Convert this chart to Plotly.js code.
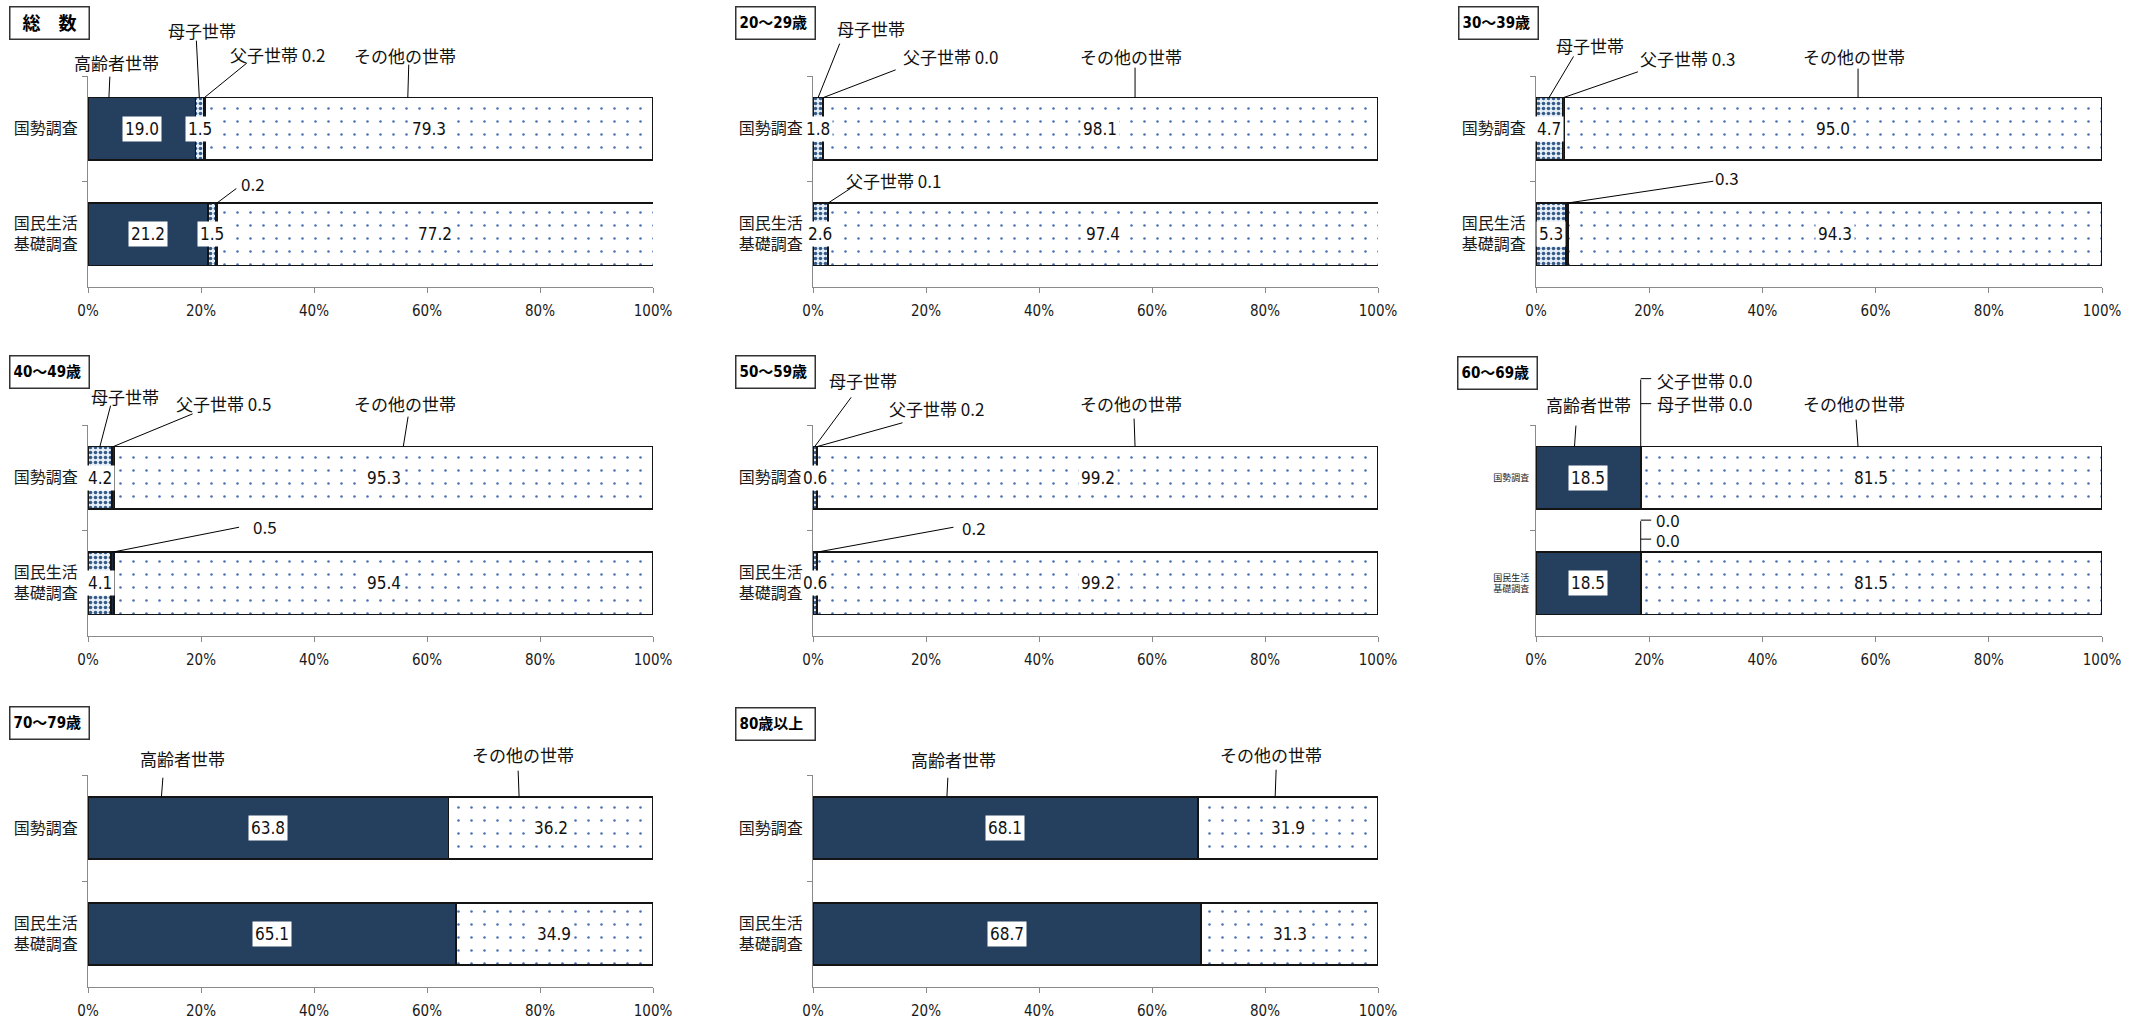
<!DOCTYPE html>
<html><head><meta charset="utf-8">
<script src="https://cdn.plot.ly/plotly-3.0.1.min.js"></script>
<style>html,body{margin:0;padding:0;background:#fff}#chart{width:2129px;height:1019px}</style>
</head><body><div id="chart"></div>
<script>
// ---------------- data ----------------
const surveys = ['国勢調査', '国民生活<br>基礎調査'];
const panelTitles = ['総　数', '20〜29歳', '30〜39歳', '40〜49歳', '50〜59歳', '60〜69歳', '70〜79歳', '80歳以上'];
const seriesNames = ['高齢者世帯', '母子世帯', '父子世帯', 'その他の世帯'];
// each entry: [国勢調査, 国民生活基礎調査]
const elderly = [[19.0, 21.2], [null, null], [null, null], [null, null], [null, null], [18.5, 18.5], [63.8, 65.1], [68.1, 68.7]];
const mother  = [[1.5, 1.5], [1.8, 2.6], [4.7, 5.3], [4.2, 4.1], [0.6, 0.6], [0.0, 0.0], [null, null], [null, null]];
const father  = [[0.2, 0.2], [0.0, 0.1], [0.3, 0.3], [0.5, 0.5], [0.2, 0.2], [0.0, 0.0], [null, null], [null, null]];
const others  = [[79.3, 77.2], [98.1, 97.4], [95.0, 94.3], [95.3, 95.4], [99.2, 99.2], [81.5, 81.5], [36.2, 34.9], [31.9, 31.3]];
const xTickVals = [0, 20, 40, 60, 80, 100];
const xTickText = ['0%', '20%', '40%', '60%', '80%', '100%'];

// ---------------- layout helpers ----------------
const W = 2129, H = 1019;
const FONT = '"Liberation Sans Narrow", "DejaVu Sans Condensed", "Noto Sans CJK JP", sans-serif';
const JFONT = '"Liberation Sans Narrow", "Noto Sans CJK JP", sans-serif';
const BARGAP = 0.41, HALF = (1 - BARGAP) / 2;
const colPx = [[88, 653], [813, 1378], [1536, 2102]];
const rowPx = [[76, 287], [425, 636], [775, 987]];
const titleBox = [[9, 6], [735, 6], [1458, 6], [9, 355], [735, 355], [1457, 356], [9, 706], [735, 707]];
const fmt = v => v.toFixed(1);

// callout texts {t, x(%), bar, dy(px above bar top)} and leader lines {x(%), bar, ax, ay, up}
const callouts = [
  { texts: [
      {t: seriesNames[0], x: 5.1, bar: 0, dy: 35},
      {t: seriesNames[1], x: 20.2, bar: 0, dy: 67},
      {t: seriesNames[2] + ' ' + fmt(father[0][0]), x: 33.5, bar: 0, dy: 43},
      {t: seriesNames[3], x: 56.1, bar: 0, dy: 42},
      {t: fmt(father[0][1]), x: 29.2, bar: 1, dy: 20}],
    lines: [
      {x: 3.7, bar: 0, ax: 1, ay: -22}, {x: 19.7, bar: 0, ax: -3, ay: -58},
      {x: 20.6, bar: 0, ax: 43, ay: -35}, {x: 56.6, bar: 0, ax: 1, ay: -34},
      {x: 22.8, bar: 1, ax: 20, ay: -15}] },
  { texts: [
      {t: seriesNames[1], x: 10.3, bar: 0, dy: 69},
      {t: seriesNames[2] + ' ' + fmt(father[1][0]), x: 24.4, bar: 0, dy: 41},
      {t: seriesNames[3], x: 56.2, bar: 0, dy: 41},
      {t: seriesNames[2] + ' ' + fmt(father[1][1]), x: 14.3, bar: 1, dy: 23}],
    lines: [
      {x: 0.9, bar: 0, ax: 22, ay: -55}, {x: 1.8, bar: 0, ax: 73, ay: -28},
      {x: 57.0, bar: 0, ax: 0, ay: -31}, {x: 2.65, bar: 1, ax: 23, ay: -15}] },
  { texts: [
      {t: seriesNames[1], x: 9.5, bar: 0, dy: 52},
      {t: seriesNames[2] + ' ' + fmt(father[2][0]), x: 26.7, bar: 0, dy: 39},
      {t: seriesNames[3], x: 56.2, bar: 0, dy: 41},
      {t: fmt(father[2][1]), x: 33.7, bar: 1, dy: 26}],
    lines: [
      {x: 2.3, bar: 0, ax: 25, ay: -42}, {x: 4.85, bar: 0, ax: 75, ay: -26},
      {x: 56.9, bar: 0, ax: 0, ay: -30}, {x: 5.45, bar: 1, ax: 147, ay: -22}] },
  { texts: [
      {t: seriesNames[1], x: 6.5, bar: 0, dy: 50},
      {t: seriesNames[2] + ' ' + fmt(father[3][0]), x: 23.9, bar: 0, dy: 43},
      {t: seriesNames[3], x: 56.1, bar: 0, dy: 43},
      {t: fmt(father[3][1]), x: 31.3, bar: 1, dy: 26}],
    lines: [
      {x: 2.1, bar: 0, ax: 11, ay: -42}, {x: 4.45, bar: 0, ax: 80, ay: -33},
      {x: 55.8, bar: 0, ax: 5, ay: -31}, {x: 4.35, bar: 1, ax: 127, ay: -25}] },
  { texts: [
      {t: seriesNames[1], x: 8.8, bar: 0, dy: 66},
      {t: seriesNames[2] + ' ' + fmt(father[4][0]), x: 21.8, bar: 0, dy: 38},
      {t: seriesNames[3], x: 56.3, bar: 0, dy: 43},
      {t: fmt(father[4][1]), x: 28.5, bar: 1, dy: 25}],
    lines: [
      {x: 0.3, bar: 0, ax: 37, ay: -50}, {x: 0.7, bar: 0, ax: 86, ay: -24},
      {x: 57.0, bar: 0, ax: -1, ay: -29}, {x: 0.7, bar: 1, ax: 137, ay: -25}] },
  { texts: [
      {t: seriesNames[0], x: 9.2, bar: 0, dy: 42},
      {t: seriesNames[2] + ' ' + fmt(father[5][0]), x: 29.8, bar: 0, dy: 66},
      {t: seriesNames[1] + ' ' + fmt(mother[5][0]), x: 29.8, bar: 0, dy: 43},
      {t: seriesNames[3], x: 56.1, bar: 0, dy: 43},
      {t: fmt(father[5][1]), x: 23.3, bar: 1, dy: 33},
      {t: fmt(mother[5][1]), x: 23.3, bar: 1, dy: 13}],
    lines: [
      {x: 6.8, bar: 0, ax: 1.5, ay: -22},
      {x: 18.5, bar: 0, ax: 0, ay: -68},
      {x: 18.5, bar: 0, ax: 11, ay: 0, up: 68},
      {x: 18.5, bar: 0, ax: 11, ay: 0, up: 43},
      {x: 18.5, bar: 1, ax: 0, ay: -32},
      {x: 18.5, bar: 1, ax: 11, ay: 0, up: 32},
      {x: 18.5, bar: 1, ax: 11, ay: 0, up: 13},
      {x: 56.9, bar: 0, ax: -2, ay: -28}] },
  { texts: [
      {t: seriesNames[0], x: 16.8, bar: 0, dy: 38},
      {t: seriesNames[3], x: 77.0, bar: 0, dy: 42}],
    lines: [
      {x: 13.0, bar: 0, ax: 1.5, ay: -20}, {x: 76.3, bar: 0, ax: -1, ay: -27}] },
  { texts: [
      {t: seriesNames[0], x: 24.8, bar: 0, dy: 37},
      {t: seriesNames[3], x: 81.1, bar: 0, dy: 42}],
    lines: [
      {x: 23.7, bar: 0, ax: 1, ay: -20}, {x: 81.8, bar: 0, ax: 1, ay: -28}] }
];

// ---------------- styles ----------------
const outline = {color: '#141414', width: 1.6};
const markers = [
  {color: '#253f5f', line: outline},
  {color: '#dce8f4', line: outline, pattern: {shape: '.', fgcolor: '#365a88', bgcolor: '#e6eff8', size: 5, solidity: 0.4}},
  {color: '#1c2a3c', line: outline},
  {color: '#ffffff', line: outline, pattern: {shape: '.', fgcolor: '#4a72b0', bgcolor: '#ffffff', size: 13, solidity: 0.03}}
];
const allSeries = [elderly, mother, father, others];

const traces = [];
const layout = {
  width: W, height: H, margin: {l: 0, r: 0, t: 0, b: 0},
  paper_bgcolor: '#fff', plot_bgcolor: 'rgba(0,0,0,0)',
  barmode: 'stack', bargap: BARGAP, showlegend: false,
  font: {family: FONT, color: '#1a1a1a'},
  annotations: []
};

for (let p = 0; p < 8; p++) {
  const k = p + 1, row = Math.floor(p / 3), col = p % 3;
  const xa = 'x' + k, ya = 'y' + k;
  allSeries.forEach((s, si) => {
    traces.push({
      type: 'bar', orientation: 'h', name: seriesNames[si],
      x: s[p], y: surveys, xaxis: xa, yaxis: ya,
      marker: markers[si], hoverinfo: 'skip', showlegend: false
    });
  });
  layout['xaxis' + k] = {
    domain: [colPx[col][0] / W, colPx[col][1] / W], anchor: ya,
    range: [0, 100], showgrid: false, zeroline: false,
    showline: true, linecolor: '#8a8a8a', linewidth: 1,
    ticks: 'outside', ticklen: 5, tickcolor: '#8a8a8a',
    tickvals: xTickVals, ticktext: xTickText, ticklabelstandoff: 5,
    tickfont: {size: 15, family: FONT, color: '#1a1a1a'}, fixedrange: true
  };
  layout['yaxis' + k] = {
    domain: [1 - rowPx[row][1] / H, 1 - rowPx[row][0] / H], anchor: xa,
    type: 'category', categoryorder: 'array', categoryarray: surveys,
    range: [1.5, -0.5], showgrid: false, zeroline: false,
    showline: true, linecolor: '#8a8a8a', linewidth: 1,
    ticks: 'outside', tickson: 'boundaries', ticklen: 5, tickcolor: '#8a8a8a',
    ticklabelstandoff: p === 5 ? 4 : 6,
    tickfont: {size: p === 5 ? 9 : 16, family: JFONT, color: '#1a1a1a'}, fixedrange: true
  };

  // value labels inside the bars
  for (let b = 0; b < 2; b++) {
    let base = 0;
    allSeries.forEach((s, si) => {
      const v = s[p][b];
      if (v === null) return;
      if (si !== 2 && v > 0) {
        layout.annotations.push({
          xref: xa, yref: ya, x: base + v / 2, y: b, text: fmt(v), showarrow: false,
          bgcolor: '#ffffff', borderpad: 2, font: {size: 17, family: FONT, color: '#111'}
        });
      }
      base += v;
    });
  }

  // callout texts and leader lines
  callouts[p].texts.forEach(T => {
    layout.annotations.push({
      xref: xa, yref: ya, x: T.x, y: T.bar - HALF, yshift: T.dy, text: T.t,
      showarrow: false, xanchor: 'center', yanchor: 'middle',
      font: {size: 17, family: JFONT, color: '#111'}
    });
  });
  callouts[p].lines.forEach(L => {
    layout.annotations.push({
      xref: xa, yref: ya, x: L.x, y: L.bar - HALF, yshift: L.up || 0,
      ax: L.ax, ay: L.ay, text: ' ', showarrow: true, arrowhead: 0,
      arrowwidth: 1, arrowcolor: '#000', standoff: 0, startstandoff: 0,
      borderpad: 0, font: {size: 1}
    });
  });

  // panel title box
  layout.annotations.push({
    xref: 'paper', yref: 'paper', x: titleBox[p][0] / W, y: 1 - titleBox[p][1] / H,
    xanchor: 'left', yanchor: 'top', text: '<b>' + panelTitles[p] + '</b>',
    showarrow: false, width: 72, height: 25, align: p === 0 ? 'center' : 'left', valign: 'middle',
    bgcolor: '#ffffff', bordercolor: '#333', borderwidth: 1.5, borderpad: 3,
    font: {size: p === 0 ? 18 : 15, family: FONT, color: '#000'}
  });
}

Plotly.newPlot('chart', traces, layout, {staticPlot: true, displayModeBar: false});
</script>
</body></html>
